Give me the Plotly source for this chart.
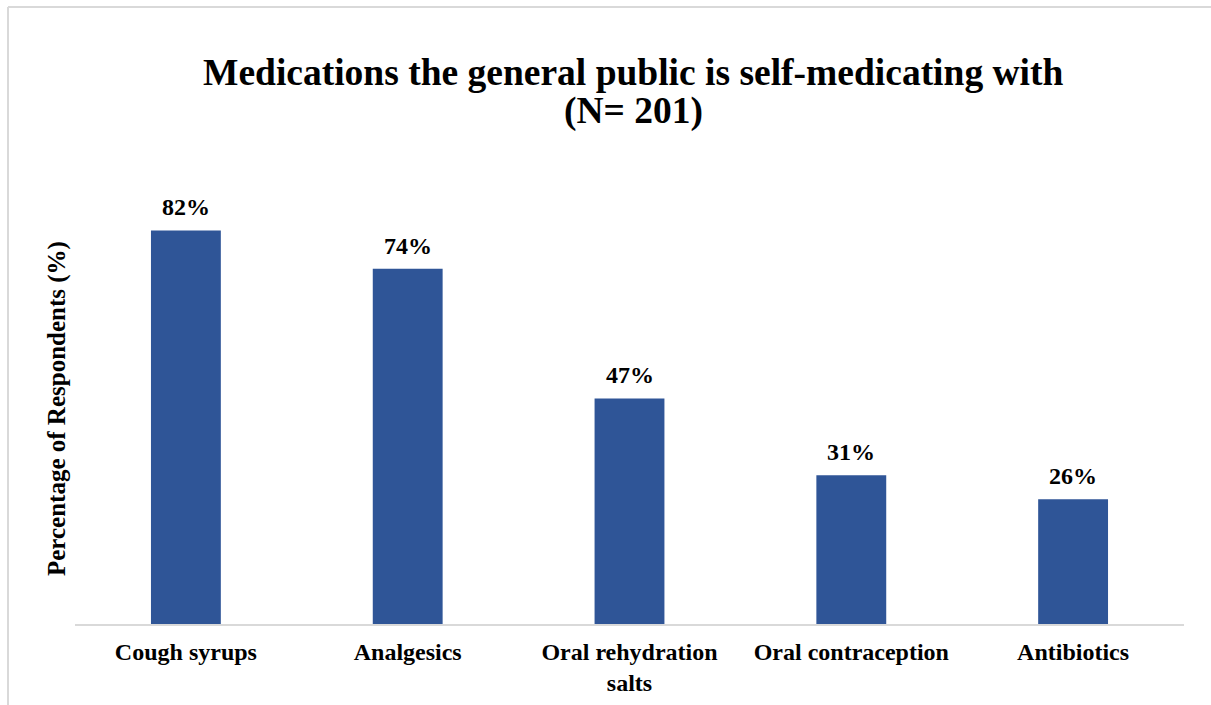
import plotly.graph_objects as go

categories = ["Cough syrups", "Analgesics", "Oral rehydration<br>salts",
              "Oral contraception", "Antibiotics"]
percentages = [82, 74, 47, 31, 26]
value_labels = ["82%", "74%", "47%", "31%", "26%"]

title_lines = ["Medications the general public is self-medicating with", "(N= 201)"]
y_title = "Percentage of Respondents (%)"

FONT = "Liberation Serif"
BAR_COLOR = "#2F5597"
FRAME = "#d9d9d9"

fig = go.Figure(
    go.Bar(
        x=categories,
        y=percentages,
        marker=dict(color=BAR_COLOR, line=dict(width=0)),
        hoverinfo="skip",
    )
)

# value labels above each bar
for cat, val, lab in zip(categories, percentages, value_labels):
    fig.add_annotation(
        x=cat, y=val, text=f"<b>{lab}</b>", showarrow=False,
        yanchor="bottom", yshift=8,
        font=dict(family=FONT, size=24, color="black"),
    )

# chart title, two lines with tight spacing
for line, shift in zip(title_lines, [120, 81]):
    fig.add_annotation(
        xref="paper", yref="paper", x=0.5, y=1, yanchor="middle",
        yshift=shift, xshift=4, text=f"<b>{line}</b>", showarrow=False,
        font=dict(family=FONT, size=37.5, color="black"),
    )

# y-axis title
fig.add_annotation(
    xref="paper", yref="paper", x=0, y=0.5, xanchor="center", xshift=-18,
    yshift=-1, text=f"<b>{y_title}</b>", textangle=-90,
    showarrow=False, font=dict(family=FONT, size=25, color="black"),
)

# outer chart frame (left and top edges)
fig.add_shape(type="line", xref="paper", yref="paper",
              x0=-0.0604, x1=-0.0604, y0=-0.2, y1=1.428,
              line=dict(color=FRAME, width=2))
fig.add_shape(type="line", xref="paper", yref="paper",
              x0=-0.0604, x1=1.03, y0=1.428, y1=1.428,
              line=dict(color=FRAME, width=2))

fig.update_layout(
    width=1211, height=705,
    margin=dict(l=75, r=27, t=192, b=81, autoexpand=False),
    paper_bgcolor="white", plot_bgcolor="white",
    bargap=0.685,
    showlegend=False,
    font=dict(family=FONT, color="black"),
)
fig.update_xaxes(
    showline=True, linecolor=FRAME, linewidth=2, automargin=False,
    ticks="", tickfont=dict(family=FONT, size=24, color="black", weight="bold"),
    showgrid=False, ticklabelstandoff=5,
)
fig.update_yaxes(
    range=[0, 90], visible=False, showgrid=False, zeroline=False,
)

fig.write_html("out.html")
